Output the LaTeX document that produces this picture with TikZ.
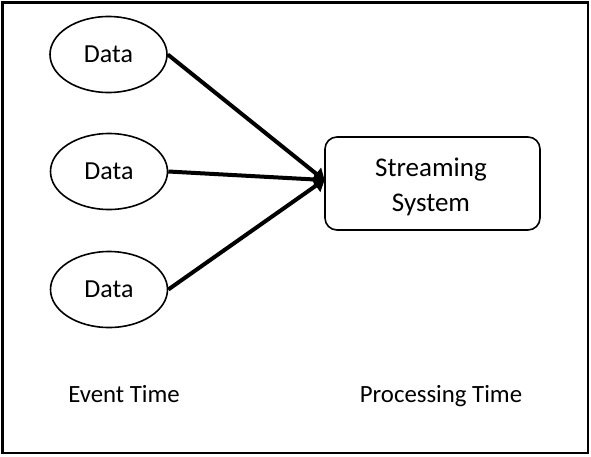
\documentclass[tikz,border=0pt]{standalone}
\usepackage{fontspec}
\setmainfont{Carlito}
\usetikzlibrary{arrows.meta,shapes.geometric}
\begin{document}
\begin{tikzpicture}[x=1pt,y=-1pt,
  databox/.style={ellipse,draw,line width=1.6pt,minimum width=117pt,minimum height=76pt,inner sep=0pt,font=\fontsize{26}{30}\selectfont},
  sysbox/.style={rectangle,rounded corners=12pt,draw,line width=1.6pt,minimum width=215pt,minimum height=93pt,inner sep=0pt},
  systext/.style={inner sep=0pt,align=center,font=\fontsize{27}{35}\selectfont},
  lbl/.style={font=\fontsize{24.8}{28}\selectfont,inner sep=0pt,anchor=base},
  conn/.style={line width=4pt,-{Triangle[length=11pt,width=15pt]},shorten >=-1pt}]
\useasboundingbox (0,0) rectangle (591,456);
\draw[line width=2.5pt] (2.5,2.5) rectangle (588,453);
\node[databox] (d1) at (108.5,54.5) {Data};
\node[databox] (d2) at (109,171.5) {Data};
\node[databox] (d3) at (109,289.5) {Data};
\node[sysbox] (s) at (432.5,183.5) {};
\node[systext] (st) at (431,187) {Streaming\\System};
\coordinate (tip) at (324,180);
\draw[conn] (d1.east) -- (tip);
\draw[conn] (d2.east) -- (tip);
\draw[conn] (d3.east) -- (tip);
\node[lbl] (et) at (124,402) {Event Time};
\node[lbl] (pt) at (441,402) {Processing Time};
\end{tikzpicture}
\end{document}
